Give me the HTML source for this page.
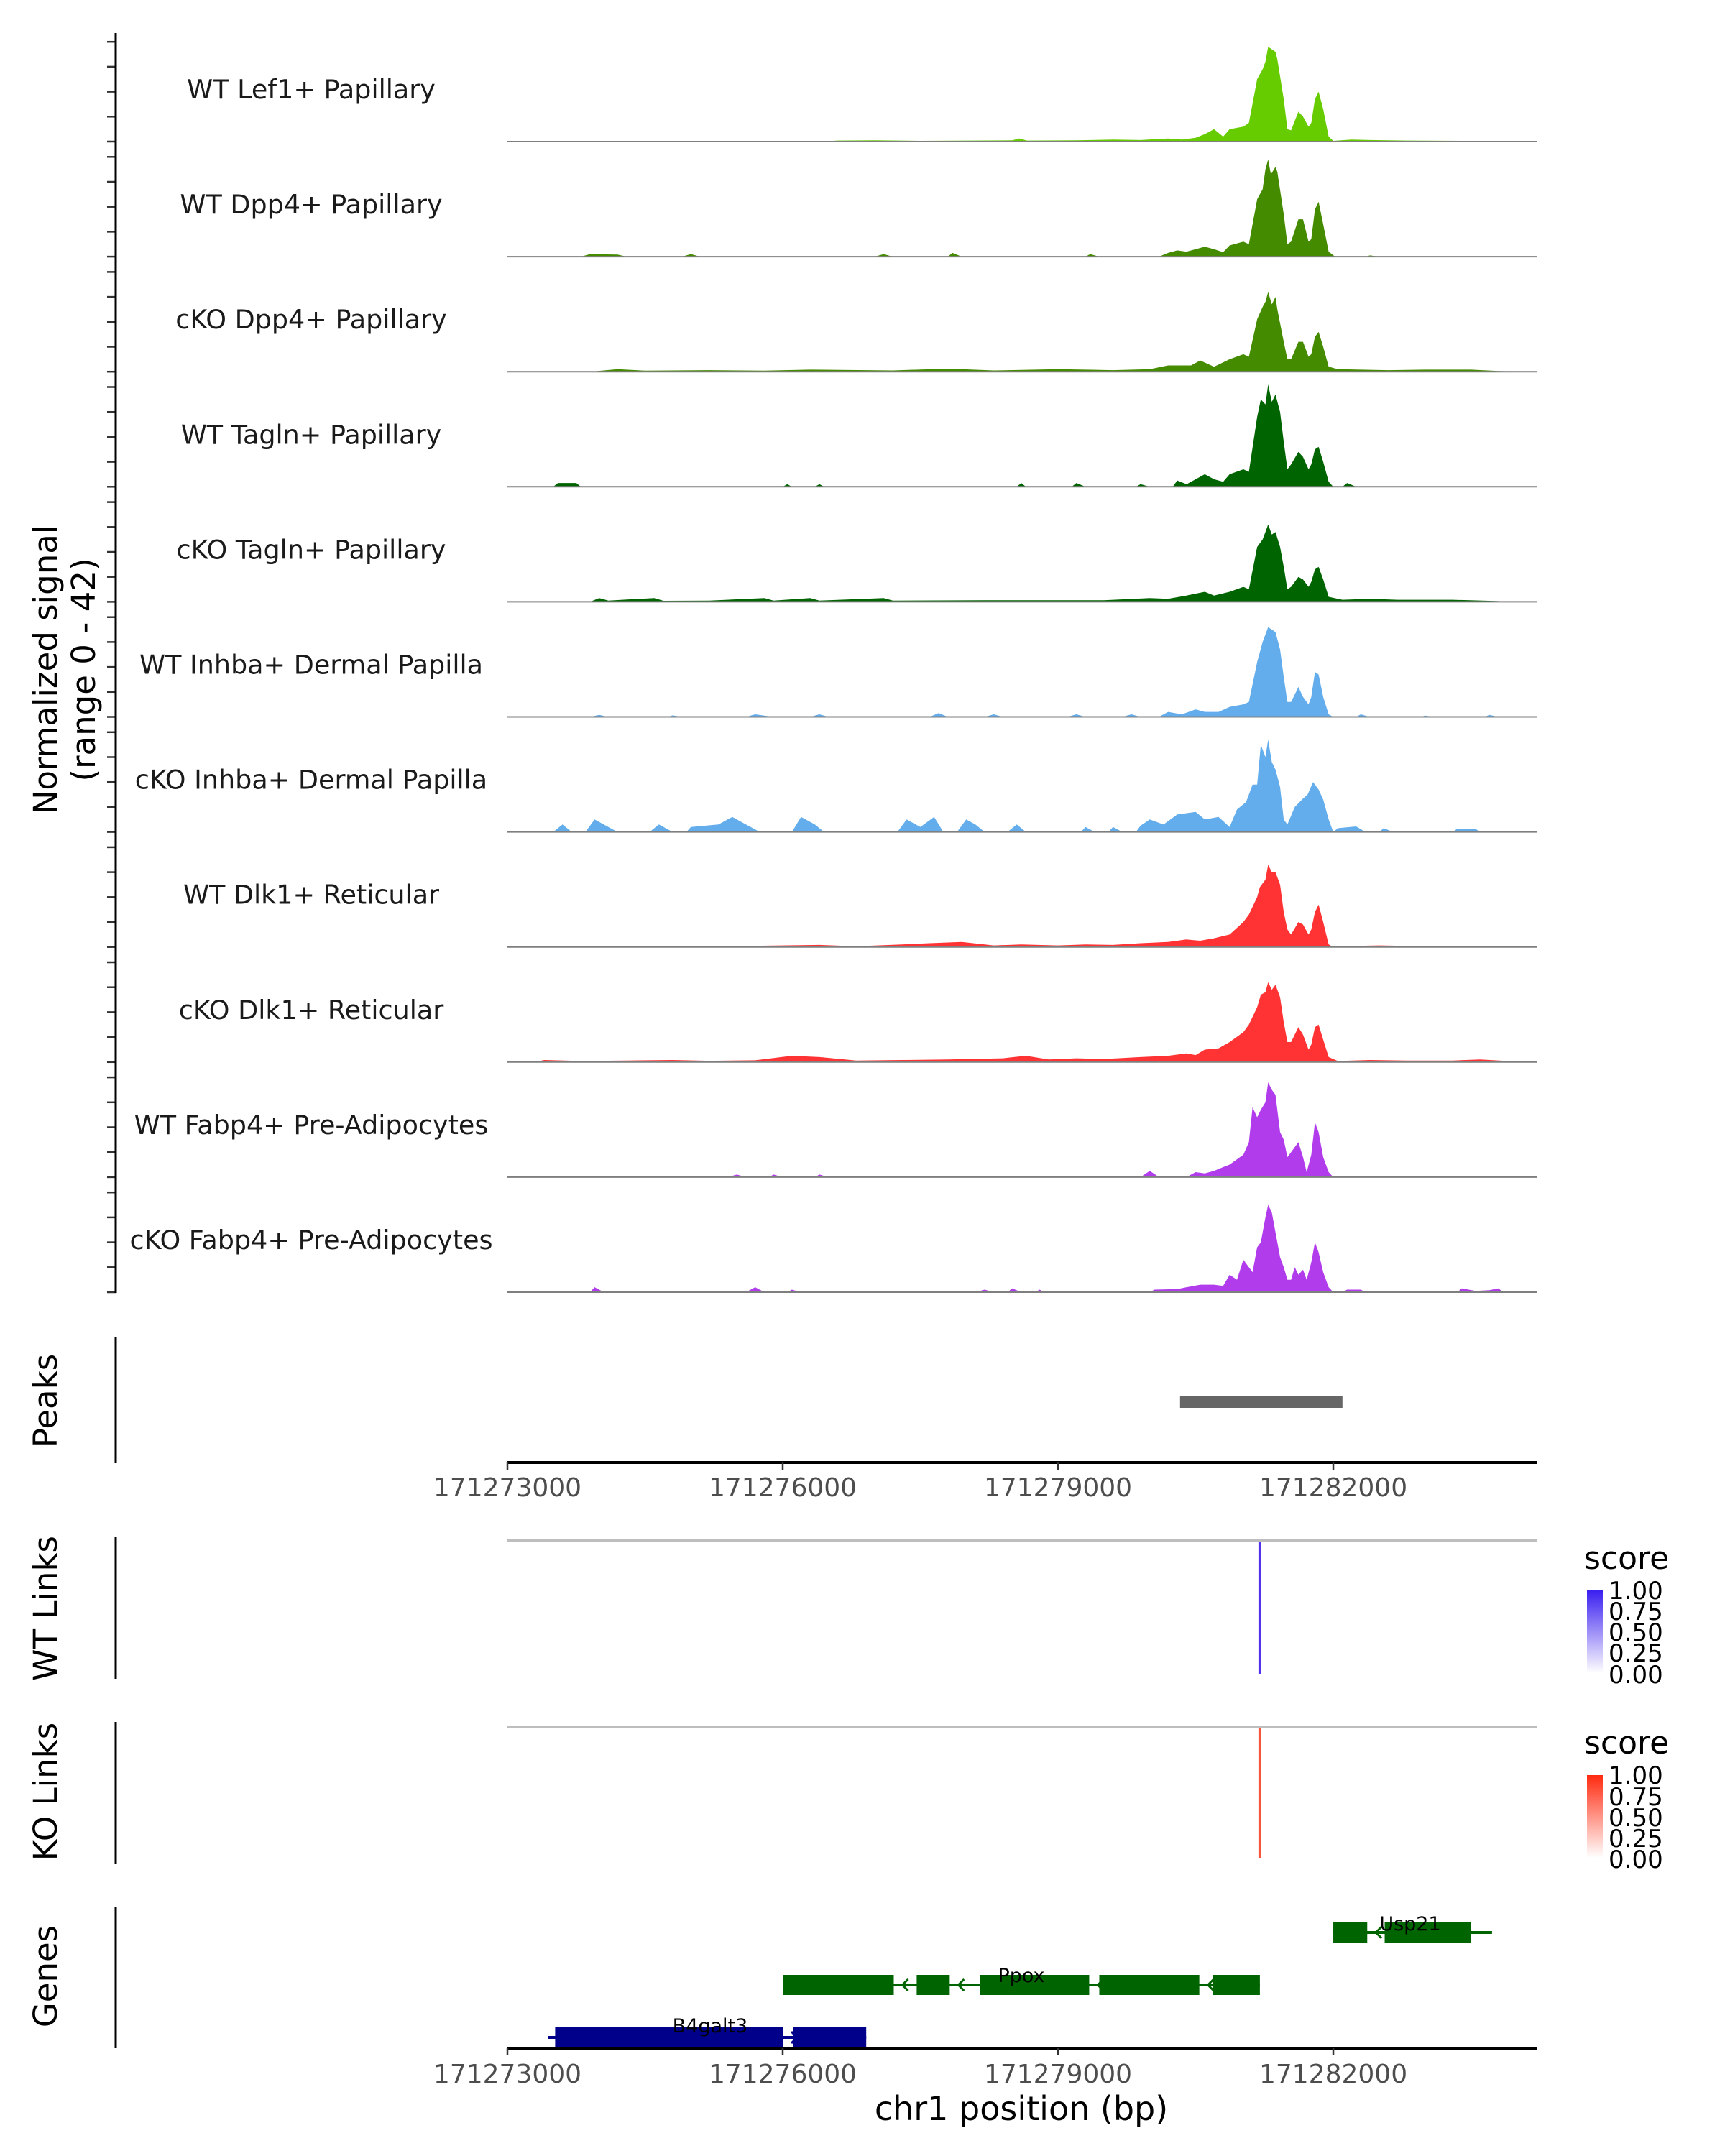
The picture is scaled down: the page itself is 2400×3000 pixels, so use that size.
<!DOCTYPE html>
<html><head><meta charset="utf-8"><style>
html,body{margin:0;padding:0;background:#fff}
svg{display:block;font-family:"DejaVu Sans","Liberation Sans",sans-serif}
</style></head><body>
<svg id="chart" width="2400" height="3000" viewBox="0 0 2400 3000" xmlns="http://www.w3.org/2000/svg">
<g id="tracks"></g>
<line x1="161" y1="46" x2="161" y2="1799" stroke="#000" stroke-width="3"/>
<text transform="translate(79,932) rotate(-90)" text-anchor="middle" font-size="45" fill="#000">Normalized signal</text>
<text transform="translate(132,932) rotate(-90)" text-anchor="middle" font-size="45" fill="#000">(range 0 - 42)</text>

<g>
<line x1="161" y1="1861" x2="161" y2="2036" stroke="#000" stroke-width="3"/>
<text transform="translate(79,1949) rotate(-90)" text-anchor="middle" font-size="45">Peaks</text>
<rect id="peakbar" fill="#666" height="17"/>
<g id="axis1"></g>
</g>

<g>
<line x1="161" y1="2139" x2="161" y2="2336" stroke="#000" stroke-width="3"/>
<text transform="translate(79,2238) rotate(-90)" text-anchor="middle" font-size="45">WT Links</text>
<line x1="706" y1="2143" x2="2139" y2="2143" stroke="#bebebe" stroke-width="4"/>
<line id="wtlink" y1="2145" y2="2330" stroke="#5533ee" stroke-width="4"/>
<text x="2204" y="2183" font-size="44">score</text>
<defs>
<linearGradient id="gB" x1="0" y1="1" x2="0" y2="0"><stop offset="0" stop-color="#fff"/><stop offset="1" stop-color="#3a1ff0"/></linearGradient>
<linearGradient id="gR" x1="0" y1="1" x2="0" y2="0"><stop offset="0" stop-color="#fff"/><stop offset="1" stop-color="#ff2a10"/></linearGradient>
</defs>
<rect x="2208" y="2213" width="22" height="115" fill="url(#gB)"/>
<g font-size="34" fill="#000">
<text x="2238" y="2225">1.00</text><text x="2238" y="2254">0.75</text><text x="2238" y="2283">0.50</text><text x="2238" y="2312">0.25</text><text x="2238" y="2342">0.00</text>
</g>
</g>

<g>
<line x1="161" y1="2396" x2="161" y2="2593" stroke="#000" stroke-width="3"/>
<text transform="translate(79,2493) rotate(-90)" text-anchor="middle" font-size="45">KO Links</text>
<line x1="706" y1="2403" x2="2139" y2="2403" stroke="#bebebe" stroke-width="4"/>
<line id="kolink" y1="2405" y2="2585" stroke="#f5553a" stroke-width="4"/>
<text x="2204" y="2440" font-size="44">score</text>
<rect x="2208" y="2470" width="22" height="115" fill="url(#gR)"/>
<g font-size="34" fill="#000">
<text x="2238" y="2482">1.00</text><text x="2238" y="2512">0.75</text><text x="2238" y="2541">0.50</text><text x="2238" y="2570">0.25</text><text x="2238" y="2599">0.00</text>
</g>
</g>

<g>
<line x1="161" y1="2653" x2="161" y2="2850" stroke="#000" stroke-width="3"/>
<text transform="translate(79,2750) rotate(-90)" text-anchor="middle" font-size="45">Genes</text>
<g id="genes"></g>
<g id="axis2"></g>
<text x="1421" y="2950" text-anchor="middle" font-size="46">chr1 position (bp)</text>
</g>
</svg>
<script>
// genomic positions stored as kb offset from 171273000
const xStartBp = 171273000;
const xTicks = [171273000, 171276000, 171279000, 171282000];
const trackNames = ["WT Lef1+ Papillary","WT Dpp4+ Papillary","cKO Dpp4+ Papillary","WT Tagln+ Papillary","cKO Tagln+ Papillary","WT Inhba+ Dermal Papilla","cKO Inhba+ Dermal Papilla","WT Dlk1+ Reticular","cKO Dlk1+ Reticular","WT Fabp4+ Pre-Adipocytes","cKO Fabp4+ Pre-Adipocytes"];
const trackColors = ["#66cc00","#458b00","#458b00","#006400","#006400","#63adec","#63adec","#ff3333","#ff3333","#b03ceb","#b03ceb"];
const wtLef1 = [[3.4,0],[3.6,0.4],[4.0,0.5],[4.5,0.3],[5.5,0.5],[5.58,1.2],[5.66,0.4],[6.2,0.5],[6.6,0.8],[6.9,0.6],[7.2,1.2],[7.35,0.8],[7.5,1.5],[7.6,3],[7.7,5],[7.8,2],[7.87,5],[8.02,6],[8.08,7.5],[8.17,25],[8.23,29],[8.26,32],[8.29,38],[8.37,36],[8.39,33],[8.46,17],[8.50,5],[8.54,4.5],[8.62,12],[8.67,10],[8.73,6],[8.76,7.5],[8.80,17],[8.84,20],[8.89,13],[8.95,2],[9.0,0.3],[9.2,0.8],[9.4,0.6],[9.8,0.4],[10.4,0.3],[11.0,0]];
const wtDpp4 = [[0.8,0],[0.9,1],[1.2,0.8],[1.3,0],[1.9,0],[2.0,1],[2.1,0],[4.0,0],[4.1,1],[4.2,0],[4.8,0],[4.85,1.5],[4.95,0],[6.3,0],[6.35,1],[6.45,0],[7.1,0],[7.2,1.5],[7.3,2.5],[7.4,2],[7.5,3],[7.6,4],[7.7,3],[7.8,1.8],[7.87,4.5],[8.02,6],[8.08,5],[8.17,23],[8.23,27],[8.26,35],[8.29,39],[8.32,33],[8.37,36],[8.39,34],[8.46,17],[8.50,5],[8.54,6],[8.62,15],[8.67,15],[8.73,6],[8.76,7],[8.80,19],[8.84,22],[8.89,13],[8.95,2],[9.02,0],[9.35,0],[9.4,0.5],[9.5,0]];
const koDpp4 = [[0.9,0],[1.2,1],[1.5,0.4],[2.2,0.6],[2.8,0.4],[3.3,0.8],[4.2,0.5],[4.8,1.2],[5.3,0.5],[6.0,1],[6.6,0.6],[7.0,1],[7.2,2.5],[7.45,2.5],[7.55,4.5],[7.7,2],[7.87,5],[8.02,7],[8.08,6],[8.17,21],[8.23,26],[8.26,28],[8.29,32],[8.33,27],[8.37,30],[8.39,25],[8.46,12],[8.50,5],[8.54,5],[8.62,12],[8.67,12],[8.73,6],[8.76,7],[8.80,14],[8.84,16],[8.89,10],[8.95,2],[9.05,1],[9.3,0.8],[9.6,0.6],[10.0,0.8],[10.5,0.8],[10.8,0.3],[11.1,0]];
const wtTagln = [[0.5,0],[0.55,1.5],[0.75,1.5],[0.8,0],[3.0,0],[3.05,1],[3.1,0],[3.35,0],[3.4,1],[3.45,0],[5.55,0],[5.6,1.5],[5.65,0],[6.15,0],[6.2,1.5],[6.3,0],[6.85,0],[6.9,1],[7.0,0],[7.25,0],[7.3,2.5],[7.4,1],[7.5,3],[7.6,5],[7.7,3],[7.8,2],[7.87,5],[8.02,7],[8.08,6],[8.17,28],[8.21,35],[8.26,33],[8.29,41],[8.33,34],[8.37,37],[8.42,30],[8.46,18],[8.50,7],[8.54,9],[8.62,14],[8.67,12],[8.73,7],[8.76,9],[8.80,15],[8.84,16],[8.89,10],[8.95,2],[9.0,0],[9.1,0],[9.15,1.5],[9.25,0]];
const koTagln = [[0.9,0],[1.0,1.5],[1.1,0.5],[1.6,1.5],[1.7,0.4],[2.2,0.5],[2.8,1.5],[2.9,0.5],[3.3,1.5],[3.4,0.5],[4.1,1.5],[4.2,0.5],[5.2,0.6],[5.8,0.6],[6.5,0.6],[7.0,1.5],[7.2,1.2],[7.4,2.5],[7.6,4],[7.7,2.5],[7.87,4],[8.02,6],[8.08,5],[8.17,22],[8.23,25],[8.26,28],[8.29,31],[8.33,27],[8.37,28],[8.42,22],[8.46,14],[8.50,5],[8.54,6],[8.62,10],[8.67,9],[8.73,6],[8.76,8],[8.80,13],[8.84,14],[8.89,9],[8.95,2],[9.1,0.8],[9.4,1.2],[9.7,0.8],[10.0,0.8],[10.3,0.8],[10.8,0.3],[10.9,0]];
const wtInhba = [[0.9,0],[1.0,0.8],[1.1,0],[1.75,0],[1.8,0.6],[1.9,0],[2.6,0],[2.7,1],[2.9,0],[3.3,0],[3.4,1],[3.5,0],[4.6,0],[4.7,1.5],[4.8,0],[5.2,0],[5.3,1],[5.4,0],[6.1,0],[6.2,1],[6.3,0],[6.7,0],[6.8,1],[6.9,0],[7.1,0],[7.2,2],[7.35,1],[7.5,3],[7.6,2],[7.75,2],[7.87,4],[8.02,5],[8.08,6],[8.17,22],[8.23,30],[8.29,36],[8.37,34],[8.42,27],[8.46,16],[8.50,6],[8.54,6],[8.62,12],[8.67,8],[8.73,5],[8.76,8],[8.80,18],[8.84,17],[8.89,8],[8.95,1],[9.0,0],[9.25,0],[9.3,1],[9.4,0],[9.95,0],[10.0,0.5],[10.1,0],[10.65,0],[10.7,0.8],[10.8,0]];
const koInhba = [[0.5,0],[0.6,3],[0.7,0],[0.85,0],[0.95,5],[1.1,2],[1.2,0],[1.55,0],[1.65,3],[1.8,0],[1.95,0],[2.0,2],[2.3,3],[2.45,6],[2.6,3],[2.75,0],[3.1,0],[3.2,6],[3.35,3],[3.45,0],[4.25,0],[4.35,5],[4.5,2],[4.65,6],[4.75,0],[4.9,0],[5.0,5],[5.1,3],[5.2,0],[5.45,0],[5.55,3],[5.65,0],[6.25,0],[6.3,2],[6.4,0],[6.55,0],[6.6,2],[6.7,0],[6.85,0],[6.9,2.5],[7.0,5],[7.15,3],[7.3,7],[7.5,8],[7.6,5],[7.75,6],[7.87,2],[7.95,9],[8.05,12],[8.12,19],[8.17,19],[8.21,35],[8.26,30],[8.29,37],[8.33,28],[8.37,25],[8.42,18],[8.46,5],[8.50,3],[8.58,10],[8.66,13],[8.72,15],[8.78,20],[8.84,17],[8.89,13],[8.95,5],[9.0,0],[9.05,1.5],[9.25,2.2],[9.35,0],[9.5,0],[9.55,1.5],[9.65,0],[10.3,0],[10.35,1.2],[10.55,1.2],[10.6,0]];
const wtDlk1 = [[0.3,0],[0.6,0.5],[1.0,0.2],[1.6,0.5],[2.2,0.2],[3.4,0.8],[3.8,0.3],[4.3,1],[4.6,1.5],[4.95,2],[5.3,0.6],[5.6,1],[6.0,0.6],[6.3,1],[6.6,0.8],[6.9,1.5],[7.2,2],[7.4,3],[7.55,2.5],[7.7,3.5],[7.87,5],[8.02,10],[8.08,13],[8.17,20],[8.20,24],[8.26,27],[8.29,33],[8.33,30],[8.37,30],[8.42,25],[8.46,14],[8.50,7],[8.54,5],[8.62,10],[8.67,9],[8.73,5],[8.76,7],[8.80,14],[8.84,17],[8.89,10],[8.95,1],[9.0,0],[9.2,0.4],[9.5,0.6],[9.8,0.4],[10.2,0.3],[10.6,0]];
const koDlk1 = [[0.3,0],[0.4,0.8],[0.8,0.4],[1.3,0.6],[1.8,0.8],[2.2,0.5],[2.7,0.7],[3.1,2.5],[3.4,2],[3.8,0.6],[4.3,0.8],[4.8,1],[5.4,1.5],[5.65,2.5],[5.9,1],[6.2,1.5],[6.5,1.2],[6.9,2],[7.2,2.5],[7.4,3.5],[7.5,2.8],[7.6,5],[7.75,5.5],[7.87,8],[8.02,12],[8.08,15],[8.17,22],[8.21,27],[8.26,28],[8.29,32],[8.33,29],[8.37,31],[8.42,26],[8.46,16],[8.50,8],[8.54,8],[8.62,14],[8.67,11],[8.73,5],[8.76,7],[8.80,14],[8.84,15],[8.89,9],[8.95,2],[9.05,0.4],[9.4,0.8],[9.8,0.6],[10.3,0.6],[10.6,1],[10.9,0.4],[11.1,0]];
const wtFabp4 = [[2.4,0],[2.5,1],[2.6,0],[2.85,0],[2.9,1],[3.0,0],[3.35,0],[3.4,1],[3.5,0],[6.9,0],[7.0,2.5],[7.1,0],[7.4,0],[7.5,2],[7.6,1.5],[7.7,2.5],[7.8,4],[7.87,5],[8.02,9],[8.08,14],[8.12,28],[8.17,24],[8.21,27],[8.26,30],[8.29,38],[8.33,35],[8.37,33],[8.42,18],[8.46,15],[8.50,8],[8.54,10],[8.62,14],[8.67,8],[8.71,2],[8.76,9],[8.80,22],[8.84,18],[8.89,8],[8.95,2],[9.0,0]];
const koFabp4 = [[0.9,0],[0.95,2],[1.05,0],[2.6,0],[2.7,2],[2.8,0],[3.05,0],[3.1,1],[3.2,0],[5.1,0],[5.2,1],[5.3,0],[5.45,0],[5.5,1.5],[5.6,0],[5.75,0],[5.8,1],[5.85,0],[7.0,0],[7.05,1],[7.3,1.2],[7.4,2],[7.55,3],[7.7,3],[7.8,2.5],[7.87,7],[7.95,5],[8.02,13],[8.08,10],[8.12,8],[8.17,18],[8.21,20],[8.26,30],[8.29,35],[8.33,32],[8.37,24],[8.42,14],[8.46,10],[8.50,5],[8.54,5],[8.58,10],[8.62,7],[8.67,9],[8.71,5],[8.76,12],[8.80,20],[8.84,16],[8.89,8],[8.95,2],[9.0,0],[9.1,0],[9.15,1],[9.3,1],[9.35,0],[10.35,0],[10.4,1.5],[10.55,0.5],[10.7,0.8],[10.8,1.5],[10.85,0]];
const trackData = [wtLef1, wtDpp4, koDpp4, wtTagln, koTagln, wtInhba, koInhba, wtDlk1, koDlk1, wtFabp4, koFabp4];
const yTickVals = [0, 10, 20, 30, 40];
const peakRegion = [7.33, 9.10];
const linkPos = 8.20;
const usp21Exons = [[9.0, 9.37], [9.56, 10.5]];
const usp21Span = [9.0, 10.73];
const ppoxExons = [[3.0, 4.21], [4.46, 4.82], [5.15, 6.34], [6.45, 7.54], [7.69, 8.20]];
const ppoxSpan = [3.0, 8.20];
const b4Exons = [[0.52, 3.0], [3.11, 3.91]];
const b4Span = [0.44, 3.91];

const NS = "http://www.w3.org/2000/svg";
const xPx = kb => 706 + kb * 127.67;
const base0 = 197, trackGap = 160.1, yUnit = 3.47;
const yPx = (i, v) => base0 + i * trackGap - Math.min(v, 42) * yUnit;
function mk(tag, attrs, parent) { const e = document.createElementNS(NS, tag); for (const k in attrs) e.setAttribute(k, attrs[k]); parent.appendChild(e); return e; }

const tracks = document.getElementById('tracks');
trackData.forEach((d, i) => {
  const b = yPx(i, 0);
  let p = `M${xPx(d[0][0])},${b}`;
  d.forEach(([k, v]) => { p += ` L${xPx(k).toFixed(1)},${yPx(i, v).toFixed(1)}`; });
  p += ` L${xPx(d[d.length - 1][0])},${b} Z`;
  const area = mk('path', { d: p, fill: trackColors[i] }, tracks);
  
  
  const bl = mk('line', { x1: 706, x2: 2139, y1: b, y2: b, stroke: '#7f7f7f', 'stroke-width': 2 }, tracks);
  
  
  const t = mk('text', { x: 433, y: b - 60, 'text-anchor': 'middle', 'font-size': 36.5, fill: '#1a1a1a' }, tracks);
  t.textContent = trackNames[i];
  
  
  yTickVals.forEach(v => {
    const tk = mk('line', { x1: 149, x2: 161, y1: yPx(i, v), y2: yPx(i, v), stroke: '#333', 'stroke-width': 2.5 }, tracks);
    
    
  });
});

const pb = document.getElementById('peakbar');
pb.setAttribute('x', xPx(peakRegion[0])); pb.setAttribute('width', xPx(peakRegion[1]) - xPx(peakRegion[0])); pb.setAttribute('y', 1942);
['wtlink', 'kolink'].forEach(id => { const l = document.getElementById(id); l.setAttribute('x1', xPx(linkPos)); l.setAttribute('x2', xPx(linkPos)); });

function axis(gid, y, ly) {
  const g = document.getElementById(gid);
  const al = mk('line', { x1: 706, x2: 2139, y1: y, y2: y, stroke: '#000', 'stroke-width': 4 }, g);
  
  
  xTicks.forEach(t => {
    const x = xPx((t - xStartBp) / 1000);
    const tk = mk('line', { x1: x, x2: x, y1: y, y2: y + 10, stroke: '#333', 'stroke-width': 2.5 }, g);
    
    
    const tl = mk('text', { x: x, y: ly, 'text-anchor': 'middle', 'font-size': 36, fill: '#4d4d4d' }, g);
    tl.textContent = t;
    
    
  });
}
axis('axis1', 2035, 2082);
axis('axis2', 2850, 2898);

const genes = document.getElementById('genes');
function gene(name, span, exons, y, color, lx, ly, dir) {
  const g = mk('g', {}, genes);
  
  
  mk('line', { x1: xPx(span[0]), x2: xPx(span[1]), y1: y, y2: y, stroke: color, 'stroke-width': 4 }, g);
  exons.forEach(e => mk('rect', { x: xPx(e[0]), y: y - 14, width: xPx(e[1]) - xPx(e[0]), height: 28, fill: color }, g));
  for (let i = 0; i < exons.length - 1; i++) {
    const ax = xPx(exons[i][1]) + 12;
    mk('path', { d: dir < 0 ? `M${ax + 8},${y - 8} L${ax},${y} L${ax + 8},${y + 8}` : `M${ax},${y - 8} L${ax + 8},${y} L${ax},${y + 8}`, stroke: color, 'stroke-width': 3, fill: 'none' }, g);
  }
  const t = mk('text', { x: lx, y: ly, 'text-anchor': 'middle', 'font-size': 27, fill: '#000' }, g);
  t.textContent = name;
}
gene('Usp21', usp21Span, usp21Exons, 2689, '#006400', 1962, 2686, -1);
gene('Ppox', ppoxSpan, ppoxExons, 2762, '#006400', 1421, 2758, -1);
gene('B4galt3', b4Span, b4Exons, 2835, '#00008b', 988, 2828, 1);
</script>
</body></html>
